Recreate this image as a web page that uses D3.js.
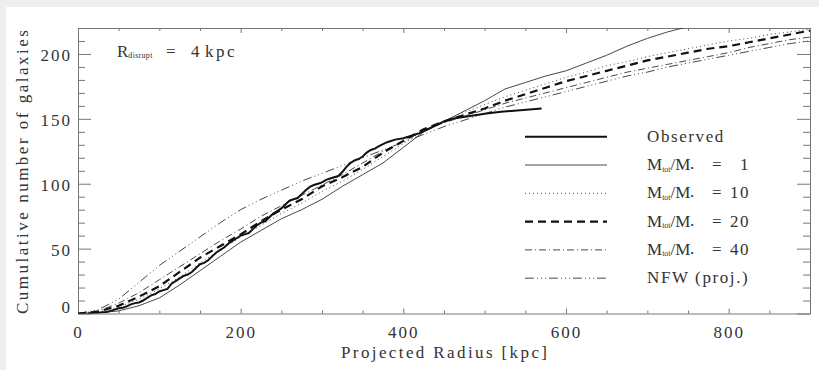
<!DOCTYPE html>
<html><head><meta charset="utf-8">
<script src="https://cdn.jsdelivr.net/npm/d3@7"></script>
<style>
body{margin:0;background:#efefef}
svg{display:block}
text{font-family:"Liberation Serif","DejaVu Serif",serif;fill:#333}
</style>
</head><body>
<svg id="c" width="819" height="370"></svg>
<script>
// ---------- data ----------
const xTicksMajor = [0, 200, 400, 600, 800];
const yTicksMajor = [0, 50, 100, 150, 200];

const obsR = [12,18,25,30,35,40,45,50,55,60,65,70,75,80,85,90,95,100,105,110,115,120,125,130,135,140,145,150,155,160,165,170,175,180,185,190,195,200,205,210,215,220,225,230,235,240,245,250,255,260,265,270,275,280,285,290,295,300,305,310,315,320,325,330,335,340,345,350,355,360,365,370,380,390,400,410,420,430,440,450,460,480,500,520,540,570];
const obsN = [0,0.3,0.5,1,1.2,2,3,4,4.5,5.5,7,8,8.5,10,12,14,15,17,18,19,23,25,27,29,30,32,35,38,39,41,44,47,49,51,54,56,58,60,61,62,65,68,70,71,74,77,79,81,84,87,88,89,92,95,97.5,99,100,101,103,104,105,106,109,113,116,118,119,121,124,126,127,129,132,134,135,137,139,142,145,148,150,152,154,155.5,156.5,158];

const modelR = [0,25,50,75,100,125,150,175,200,225,250,275,300,325,350,375,400,425,450,475,500,525,550,575,600,625,650,675,700,725,750,775,800,825,850,875,900];
const m1N  = [0,0.5,2,6,12,22,33,44,55,64,73,80,88,98,107,116,128,140,148,156,164,173,178,183,187,193,199,206,212,217,221,225,229,233,237,241,245];
const m10N = [0,1,5,11,19,28,39,49,59,68,77,85,94,102,111,121,131,141,148,155,161,167,172,177,182,186,191,194,198,201,204,207,210,212,215,217,219];
const m20N = [0,1.5,6,13,21,32,43,52,61,71,80,88,98,105,113,124,133,142,148,153,158,164,169,174,179,183,187,191,195,198,201,204,206,209,212,215,218];
const m40N = [0,2,8,16,26,36,46,56,65,75,83,91,99,107,116,125,133,141,147,152,157,162,166,170,174,178,182,186,189,192,195,198,201,205,208,211,213];
const nfwN = [0,3,11,24,37,48,59,70,80,88,95,102,108,114,120,126,132,138,144,149,154,159,163,167,171,175,179,183,186,190,193,196,199,202,205,208,210];

const legendLabels = ["Observed", "1", "10", "20", "40", "NFW (proj.)"];

// ---------- setup ----------
const svg = d3.select("#c");
svg.append("rect").attr("x",6).attr("y",7).attr("width",813).attr("height",363).attr("fill","#fff");

const x = d3.scaleLinear().domain([0,900]).range([78,810]);
const y = d3.scaleLinear().domain([0,220]).range([313.5,28]);

svg.append("clipPath").attr("id","clip").append("rect")
  .attr("x",78).attr("y",28).attr("width",732).attr("height",285.5);

const axisCol = "#777";
function styleAxis(g){
  g.selectAll("path.domain").attr("stroke",axisCol).attr("stroke-width",1);
  g.selectAll(".tick line").attr("stroke",axisCol).attr("stroke-width",1);
  g.selectAll("text").attr("fill","#333").style("font-family",'"Liberation Serif","DejaVu Serif",serif');
}
const minorX = d3.range(0,901,50).filter(v=>v%200!==0);
const minorY = d3.range(0,221,10).filter(v=>v%50!==0);

// bottom
svg.append("g").attr("transform","translate(0,313.5)")
  .call(d3.axisBottom(x).tickValues(xTicksMajor).tickSizeInner(-5).tickSizeOuter(0).tickPadding(12).tickFormat(d3.format("d")))
  .call(g=>{styleAxis(g); g.selectAll("text").attr("font-size",17).attr("letter-spacing",2);});
svg.append("g").attr("transform","translate(0,313.5)")
  .call(d3.axisBottom(x).tickValues(minorX).tickSizeInner(-3).tickSizeOuter(0).tickFormat(""))
  .call(g=>{styleAxis(g); g.select("path.domain").remove();});
// top
svg.append("g").attr("transform","translate(0,28)")
  .call(d3.axisTop(x).tickValues(xTicksMajor).tickSizeInner(-5).tickSizeOuter(0).tickFormat(""))
  .call(styleAxis);
svg.append("g").attr("transform","translate(0,28)")
  .call(d3.axisTop(x).tickValues(minorX).tickSizeInner(-3).tickSizeOuter(0).tickFormat(""))
  .call(g=>{styleAxis(g); g.select("path.domain").remove();});
// left
svg.append("g").attr("transform","translate(78,0)")
  .call(d3.axisLeft(y).tickValues(yTicksMajor).tickSizeInner(-13).tickSizeOuter(0).tickPadding(6).tickFormat(d3.format("d")))
  .call(g=>{styleAxis(g); g.selectAll("text").attr("font-size",17).attr("letter-spacing",2)
      .attr("dy",d=>d===0?"-0.05em":"0.38em");});
svg.append("g").attr("transform","translate(78,0)")
  .call(d3.axisLeft(y).tickValues(minorY).tickSizeInner(-7).tickSizeOuter(0).tickFormat(""))
  .call(g=>{styleAxis(g); g.select("path.domain").remove();});
// right
svg.append("g").attr("transform","translate(810,0)")
  .call(d3.axisRight(y).tickValues(yTicksMajor).tickSizeInner(-13).tickSizeOuter(0).tickFormat(""))
  .call(styleAxis);
svg.append("g").attr("transform","translate(810,0)")
  .call(d3.axisRight(y).tickValues(minorY).tickSizeInner(-7).tickSizeOuter(0).tickFormat(""))
  .call(g=>{styleAxis(g); g.select("path.domain").remove();});

// axis titles
svg.append("text").attr("x",444).attr("y",358).attr("text-anchor","middle")
  .attr("font-size",17).attr("textLength",206).attr("lengthAdjust","spacing")
  .text("Projected Radius [kpc]");
svg.append("text").attr("transform","translate(28,172) rotate(-90)").attr("text-anchor","middle")
  .attr("font-size",17).attr("textLength",284).attr("lengthAdjust","spacing")
  .text("Cumulative number of galaxies");

// R_disrupt label
const rl = svg.append("text").attr("x",117).attr("y",57).attr("font-size",17);
rl.append("tspan").text("R");
rl.append("tspan").attr("font-size",8).attr("dy",1).attr("letter-spacing",0.3).text("disrupt");
svg.append("text").attr("x",166).attr("y",57).attr("font-size",17).text("=");
svg.append("text").attr("x",191).attr("y",57).attr("font-size",17).text("4");
svg.append("text").attr("x",205).attr("y",57).attr("font-size",17).attr("letter-spacing",2.5).text("kpc");

// ---------- curves ----------
const styles = [
  {w:2.0, dash:null,             col:"#111"}, // observed
  {w:0.9, dash:null,             col:"#333"}, // M=1
  {w:0.9, dash:"1,3",            col:"#333"}, // M=10
  {w:2.2, dash:"8,5",            col:"#111"}, // M=20
  {w:0.9, dash:"7,3,1,3",        col:"#333"}, // M=40
  {w:0.9, dash:"9,3,1,3,1,3,1,3",col:"#333"}  // NFW
];
const series = [
  obsR.map((r,i)=>[r,obsN[i]]),
  modelR.map((r,i)=>[r,m1N[i]]),
  modelR.map((r,i)=>[r,m10N[i]]),
  modelR.map((r,i)=>[r,m20N[i]]),
  modelR.map((r,i)=>[r,m40N[i]]),
  modelR.map((r,i)=>[r,nfwN[i]])
];
const line = d3.line().x(d=>x(d[0])).y(d=>y(d[1]));
const cg = svg.append("g").attr("clip-path","url(#clip)");
[5,4,2,1,3,0].forEach(i=>{
  cg.append("path").datum(series[i]).attr("d",line).attr("fill","none")
    .attr("stroke",styles[i].col).attr("stroke-width",styles[i].w)
    .attr("stroke-dasharray",styles[i].dash);
});

// ---------- legend ----------
const legY0 = 136.7, legDy = 28.3;
legendLabels.forEach((lab,i)=>{
  const yy = legY0 + i*legDy;
  svg.append("line").attr("x1",525).attr("x2",607).attr("y1",yy).attr("y2",yy)
    .attr("stroke",styles[i].col).attr("stroke-width",styles[i].w)
    .attr("stroke-dasharray",styles[i].dash);
  if(i===0 || i===5){
    svg.append("text").attr("x",647).attr("y",yy+5).attr("font-size",17).attr("letter-spacing",1.6).text(lab);
  } else {
    const t = svg.append("text").attr("x",647).attr("y",yy+5).attr("font-size",17);
    t.append("tspan").text("M");
    t.append("tspan").attr("font-size",8).attr("dy",1.5).text("tot");
    t.append("tspan").attr("dy",-1.5).text("/M");
    t.append("tspan").attr("font-size",9).attr("dy",1).text("•");
    svg.append("text").attr("x",712).attr("y",yy+5).attr("font-size",17).text("=");
    svg.append("text").attr("x",750).attr("y",yy+5).attr("font-size",17).attr("text-anchor","end").attr("letter-spacing",1.5).text(lab);
  }
});
</script>
</body></html>
